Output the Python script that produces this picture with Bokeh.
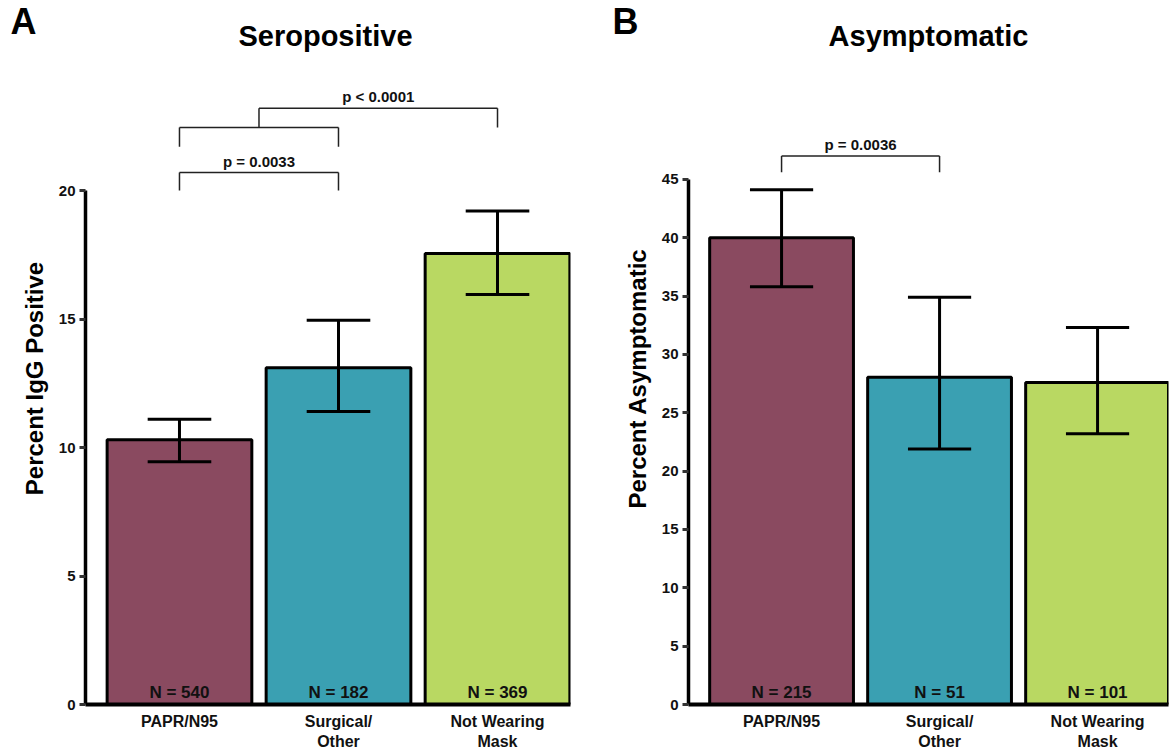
from bokeh.plotting import figure
from bokeh.layouts import row, column
from bokeh.models import FixedTicker, ColumnDataSource
from bokeh.embed import file_html
from bokeh.resources import INLINE
from bokeh.core.properties import value

# ---------------- data ----------------
categories = ["PAPR/N95", "Surgical/\nOther", "Not Wearing\nMask"]
bar_colors = ["#8A4A60", "#3AA0B2", "#B9D862"]

sero_pct = [10.3, 13.1, 17.55]
sero_lo = [9.45, 11.4, 15.95]
sero_hi = [11.1, 14.95, 19.2]
sero_n = [540, 182, 369]
sero_ticks = [0, 5, 10, 15, 20]

asym_pct = [40.0, 28.05, 27.6]
asym_lo = [35.8, 21.9, 23.2]
asym_hi = [44.1, 34.9, 32.3]
asym_n = [215, 51, 101]
asym_ticks = [0, 5, 10, 15, 20, 25, 30, 35, 40, 45]

# significance brackets: left x, right x, top y, leg bottom y, label
sero_br_x0 = [0, 0, 0.5]
sero_br_x1 = [1, 1, 2]
sero_br_top = [20.7, 22.45, 23.2]
sero_br_bot = [20.0, 21.7, 22.45]
sero_br_text = ["p = 0.0033", "", "p < 0.0001"]

asym_br_x0 = [0]
asym_br_x1 = [1]
asym_br_top = [47.0]
asym_br_bot = [45.6]
asym_br_text = ["p = 0.0036"]

panel_letters = ["A", "B"]
panel_titles = ["Seropositive", "Asymptomatic"]

FONT = "Liberation Sans"
HEADER_H = 52
TOTAL_W = 1169


def make_header():
    h = figure(width=TOTAL_W, height=HEADER_H, x_range=(0, TOTAL_W), y_range=(HEADER_H, 0),
               output_backend="svg", toolbar_location=None, x_axis_type=None,
               y_axis_type=None, min_border=0)
    h.grid.visible = False
    h.outline_line_color = None
    h.text(x=[10, 612], y=[21, 21], text=panel_letters, text_align="left",
           text_baseline="middle", text_font=value(FONT), text_font_style="bold",
           text_font_size="36px", text_color="black")
    h.text(x=[325, 928], y=[35, 35], text=panel_titles, text_align="center",
           text_baseline="middle", text_font=value(FONT), text_font_style="bold",
           text_font_size="29px", text_color="black")
    return h


def make_panel(ylabel, pct, lo, hi, n, ticks, br_x0, br_x1, br_top, br_bot, br_text,
               x_range, y_top, width, border_left, border_right):
    xs = list(range(len(categories)))
    p = figure(width=width, height=700, x_range=x_range, y_range=(0, y_top),
               output_backend="svg", toolbar_location=None,
               min_border_left=border_left, min_border_right=border_right,
               min_border_top=0, min_border_bottom=48)
    p.grid.visible = False
    p.outline_line_color = None

    src = ColumnDataSource(dict(x=xs, top=pct, lo=lo, hi=hi, color=bar_colors,
                                lab=[f"N = {v}" for v in n],
                                cl=[x - 0.2 for x in xs], cr=[x + 0.2 for x in xs]))
    p.vbar(x="x", top="top", width=0.91, fill_color="color", line_color="black",
           line_width=3, source=src)
    p.segment(x0="x", y0="lo", x1="x", y1="hi", line_color="black", line_width=3, source=src)
    p.segment(x0="cl", y0="hi", x1="cr", y1="hi", line_color="black", line_width=3, source=src)
    p.segment(x0="cl", y0="lo", x1="cr", y1="lo", line_color="black", line_width=3, source=src)
    p.text(x="x", y=0, text="lab", source=src, text_align="center", text_baseline="bottom",
           y_offset=-3, text_font=value(FONT), text_font_style="bold",
           text_font_size="17px", text_color="#111111")

    # brackets
    bsrc = ColumnDataSource(dict(x0=br_x0, x1=br_x1, top=br_top, bot=br_bot, txt=br_text,
                                 mid=[(a + b) / 2 for a, b in zip(br_x0, br_x1)]))
    p.segment(x0="x0", y0="top", x1="x1", y1="top", line_color="#222222", line_width=1.5, source=bsrc)
    p.segment(x0="x0", y0="top", x1="x0", y1="bot", line_color="#222222", line_width=1.5, source=bsrc)
    p.segment(x0="x1", y0="top", x1="x1", y1="bot", line_color="#222222", line_width=1.5, source=bsrc)
    p.text(x="mid", y="top", text="txt", source=bsrc, text_align="center",
           text_baseline="bottom", y_offset=-3, text_font=value(FONT),
           text_font_style="bold", text_font_size="15px", text_color="#111111")

    # y axis
    ya = p.yaxis[0]
    ya.ticker = FixedTicker(ticks=ticks)
    ya.bounds = (0, ticks[-1])
    ya.axis_line_width = 3.5
    ya.axis_line_color = "black"
    ya.major_tick_line_width = 3
    ya.major_tick_line_color = "#333333"
    ya.major_tick_out = 6
    ya.major_tick_in = 0
    ya.minor_tick_line_color = None
    ya.major_label_standoff = 4
    ya.major_label_text_font = FONT
    ya.major_label_text_font_style = "bold"
    ya.major_label_text_font_size = "15px"
    ya.major_label_text_color = "#111111"
    ya.axis_label = ylabel
    ya.axis_label_text_font = FONT
    ya.axis_label_text_font_style = "bold"
    ya.axis_label_text_font_size = "24px"
    ya.axis_label_text_color = "black"
    ya.axis_label_standoff = 8

    # x axis
    xa = p.xaxis[0]
    xa.ticker = FixedTicker(ticks=xs)
    xa.major_label_overrides = {i: c for i, c in enumerate(categories)}
    xa.axis_line_width = 4
    xa.axis_line_color = "black"
    xa.major_tick_line_color = None
    xa.major_tick_out = 0
    xa.major_tick_in = 0
    xa.minor_tick_line_color = None
    xa.minor_tick_out = 0
    xa.major_label_standoff = 8
    xa.major_label_text_font = FONT
    xa.major_label_text_font_style = "bold"
    xa.major_label_text_font_size = "16px"
    xa.major_label_text_color = "#111111"
    xa.major_label_text_align = "center"
    return p


header = make_header()

pA = make_panel("Percent IgG Positive", sero_pct, sero_lo, sero_hi, sero_n, sero_ticks,
                sero_br_x0, sero_br_x1, sero_br_top, sero_br_bot, sero_br_text,
                (-0.591, 2.459), 25.37, 600, 85, 30)
pB = make_panel("Percent Asymptomatic", asym_pct, asym_lo, asym_hi, asym_n, asym_ticks,
                asym_br_x0, asym_br_x1, asym_br_top, asym_br_bot, asym_br_text,
                (-0.589, 2.449), 55.87, 569, 88, 1)

layout = column(header, row(pA, pB, spacing=0), spacing=0)
open("out.html", "w").write(file_html(layout, INLINE))
